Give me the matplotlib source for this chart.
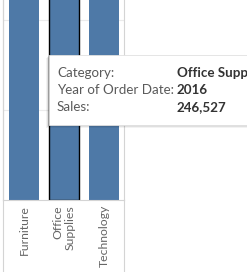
import matplotlib
matplotlib.use("Agg")
import matplotlib.pyplot as plt
from matplotlib.patches import Rectangle

# data (Sales 2016 by category, axis is cut at the top)
categories = ["Furniture", "Office\nSupplies", "Technology"]
sales = [215387, 246527, 271731]
selected = "Office\nSupplies"

tip_labels = ["Category:", "Year of Order Date:", "Sales:"]
tip_values = ["Office Supplies", "2016", "246,527"]

W, H = 247, 272
fig = plt.figure(figsize=(W / 100, H / 100), dpi=100)
plt.rcParams['font.family'] = ['Lato', 'DejaVu Sans']

ax = fig.add_axes([3 / W, (H - 200) / H, 121 / W, 200 / H])
x = list(range(len(categories)))
edges = ["black" if c == selected else "none" for c in categories]
ax.bar(x, sales, width=0.77, color="#4e79a7", edgecolor=edges, linewidth=1.0, zorder=2)
ax.set_xlim(-0.525, -0.525 + 121 / 40)
ax.set_ylim(0, 111000)
ax.set_yticks([50000, 100000])
ax.yaxis.grid(True, color="#ebebeb", linewidth=0.8, zorder=0)
ax.tick_params(left=False, labelleft=False, bottom=False, labelbottom=False)
ax.spines["top"].set_visible(False)
for s in ["left", "right", "bottom"]:
    ax.spines[s].set_color("#d4d4d4")
    ax.spines[s].set_linewidth(0.8)

# category labels, rotated, aligned at top
for xi, c in zip(x, categories):
    ax.text(xi, -0.025, c, transform=ax.get_xaxis_transform(), rotation=90,
            ha="center", va="top", fontsize=8.8, color="#666666",
            multialignment="right", linespacing=1.15)

# panel borders continuing below the axis
fig.add_artist(plt.Line2D([3 / W, 3 / W], [0, 1], color="#d4d4d4", lw=0.8))
fig.add_artist(plt.Line2D([124 / W, 124 / W], [0, 72 / H], color="#d4d4d4", lw=0.8))

# tooltip
x0, y0, x1, y1 = 49, 55, 260, 125
for k, a in [(3, 0.05), (2, 0.08), (1, 0.12)]:
    fig.add_artist(Rectangle(((x0 - k) / W, (H - y1 - k) / H), (x1 - x0 + k) / W,
                             (y1 - y0) / H, facecolor="black", alpha=a,
                             edgecolor="none", zorder=10))
fig.add_artist(Rectangle((x0 / W, (H - y1) / H), (x1 - x0) / W, (y1 - y0) / H,
                         facecolor="white", edgecolor="#e0e0e0", lw=0.6, zorder=11))
rows = [73, 90, 107]
for yy, lab, val in zip(rows, tip_labels, tip_values):
    fig.text(57 / W, (H - yy) / H, lab, fontsize=9.6, color="#5a5a5a",
             va="center", ha="left", zorder=12)
    fig.text(177 / W, (H - yy) / H, val, fontsize=9.6, color="#333333",
             fontweight="bold", va="center", ha="left", zorder=12)

fig.savefig("out.png", dpi=100)
